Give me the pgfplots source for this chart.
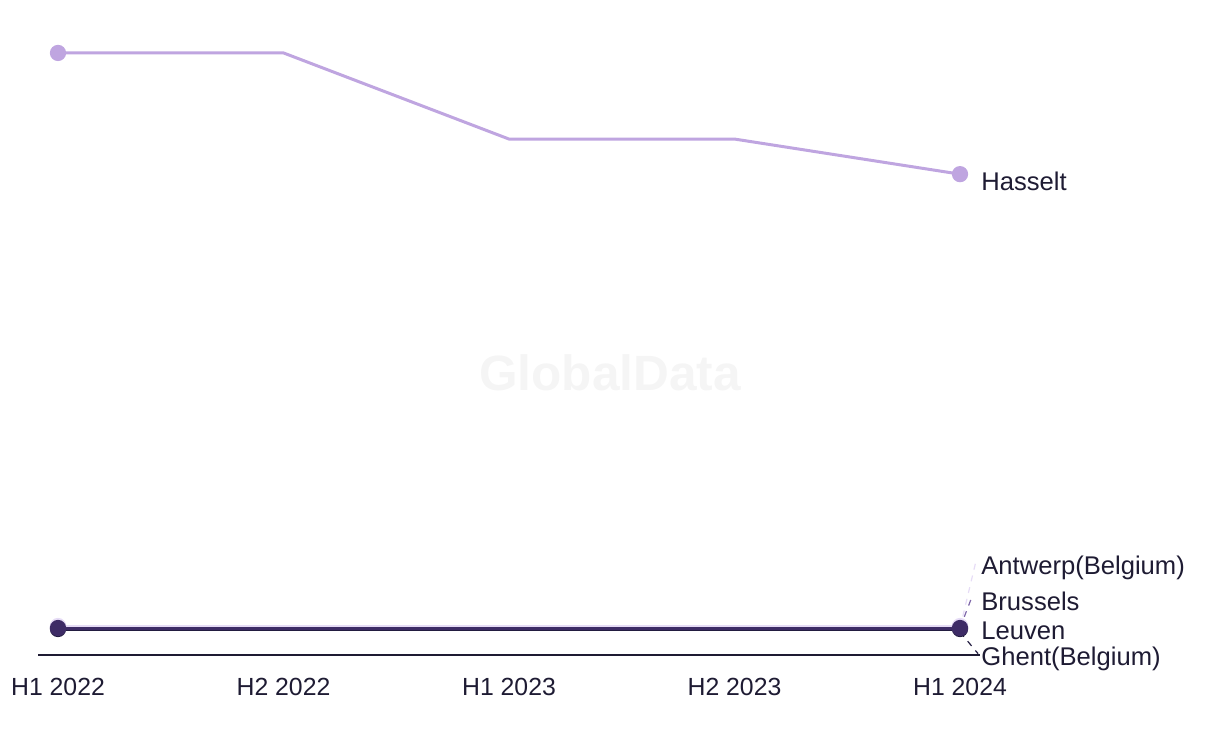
\documentclass[border=0pt]{standalone}
\usepackage{pgfplots}
\pgfplotsset{compat=1.18}
\usepackage{fontspec}
\setmainfont{Liberation Sans}
\definecolor{hasselt}{HTML}{BFA5E0}
\definecolor{antwerp}{HTML}{E6DCF6}
\definecolor{brussels}{HTML}{7D66A8}
\definecolor{leuven}{HTML}{3E2C66}
\definecolor{ghent}{HTML}{221C40}
\definecolor{txt}{HTML}{1E1B33}
\begin{document}
\begin{tikzpicture}
\path[use as bounding box] (-19pt,-44.5pt) rectangle (591pt,327.5pt);
\begin{axis}[
  at={(0,0)}, anchor=south west,
  scale only axis, width=471pt, height=317.5pt,
  xmin=-0.0887, xmax=4.0887, ymin=0, ymax=23.52,
  axis x line*=bottom, axis y line=none,
  x axis line style={-, draw=txt, line width=0.75pt},
  xtick={0,1,2,3,4}, xticklabels={H1 2022,H2 2022,H1 2023,H2 2023,H1 2024},
  major tick length=0pt,
  xticklabel style={font=\fontsize{12.4}{14}\selectfont, text=txt, yshift=-8pt},
  clip=false,
]
\node[text=black!4, font=\bfseries\fontsize{24.8}{28}\selectfont] at (axis cs:2.448,10.44) {GlobalData};
% leader lines
\draw[antwerp, dashed, line width=0.6pt] (axis cs:4,1.0) -- (axis cs:4.07,3.45);
\draw[brussels, dashed, line width=0.6pt] (axis cs:4,1.0) -- (axis cs:4.055,2.2);
\draw[ghent, dashed, line width=0.6pt] (axis cs:4,0.85) -- (axis cs:4.08,0.05);
\addplot[hasselt, line width=1.5pt, mark=*, mark indices={1,5}, mark size=3.3pt, mark options={draw=hasselt, fill=hasselt}]
 coordinates {(0,22.3) (1,22.3) (2,19.11) (3,19.11) (4,17.81)};
\addplot[ghent, line width=1.5pt, mark=*, mark indices={1,5}, mark size=3.3pt]
 coordinates {(0,0.963) (1,0.963) (2,0.963) (3,0.963) (4,0.963)};
\addplot[brussels, line width=1.5pt, mark=*, mark indices={1,5}, mark size=3.3pt]
 coordinates {(0,1.037) (1,1.037) (2,1.037) (3,1.037) (4,1.037)};
\addplot[antwerp, line width=1.5pt, mark=*, mark indices={1,5}, mark size=3.3pt]
 coordinates {(0,1.074) (1,1.074) (2,1.074) (3,1.074) (4,1.074)};
\addplot[leuven, line width=1.5pt, mark=*, mark indices={1,5}, mark size=3.3pt]
 coordinates {(0,1.0) (1,1.0) (2,1.0) (3,1.0) (4,1.0)};
% labels
\begin{scope}[every node/.style={anchor=west, inner sep=0pt, text=txt, font=\fontsize{12.8}{15}\selectfont}]
\node at (axis cs:4.093,17.56) {Hasselt};
\node at (axis cs:4.093,3.22) {Antwerp(Belgium)};
\node at (axis cs:4.093,2.0) {Brussels};
\node at (axis cs:4.093,0.89) {Leuven};
\node at (axis cs:4.093,-0.15) {Ghent(Belgium)};
\end{scope}
\end{axis}
\end{tikzpicture}
\end{document}
